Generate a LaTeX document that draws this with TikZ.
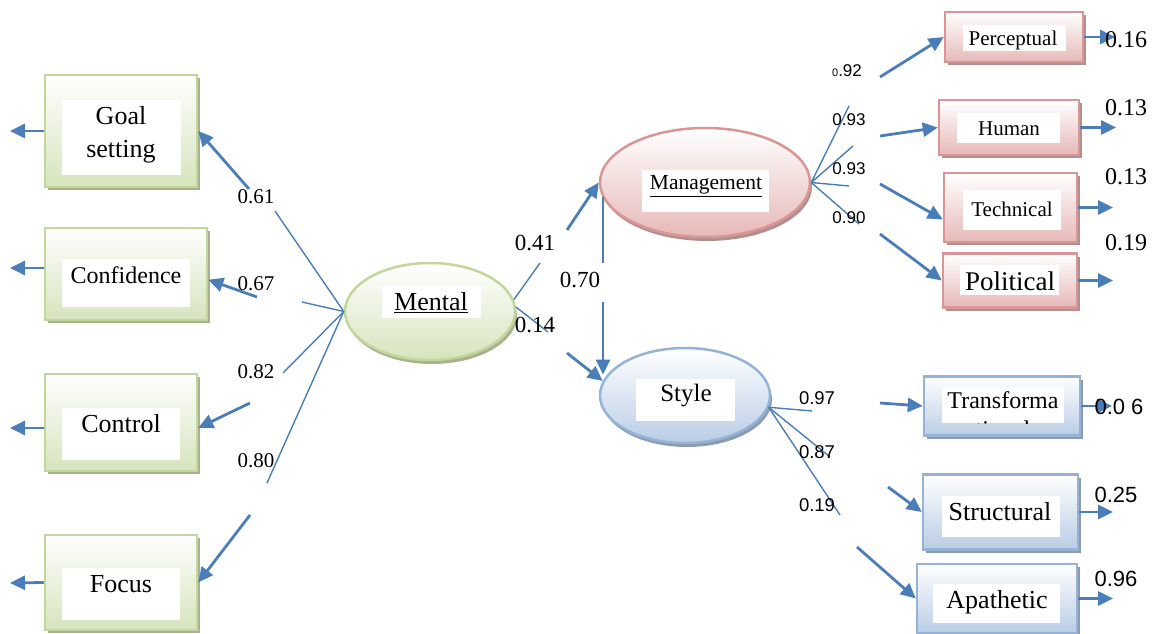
\documentclass[tikz,border=0pt]{standalone}
\usepackage{fontspec}
\setmainfont{Liberation Serif}
\newfontfamily\arialfont{Liberation Sans}
\usetikzlibrary{arrows.meta,shapes.geometric,shadows}
\definecolor{gborder}{RGB}{195,214,155}
\definecolor{gfill}{RGB}{215,228,189}
\definecolor{gshadow}{RGB}{168,178,142}
\definecolor{rborder}{RGB}{217,150,148}
\definecolor{rfill}{RGB}{230,185,184}
\definecolor{rshadow}{RGB}{178,142,142}
\definecolor{bborder}{RGB}{149,179,215}
\definecolor{bfill}{RGB}{185,205,229}
\definecolor{bshadow}{RGB}{140,155,178}
\definecolor{linkcol}{RGB}{74,126,187}
\begin{document}
\begin{tikzpicture}[x=1pt,y=-1pt]
\tikzstyle{gbox}=[rectangle, draw=gborder, line width=2.5pt, top color=white, bottom color=gfill, drop shadow={shadow xshift=3pt, shadow yshift=-3pt, fill=gshadow, opacity=1}]
\tikzstyle{rbox}=[rectangle, draw=rborder, line width=2.5pt, top color=white, bottom color=rfill, drop shadow={shadow xshift=3pt, shadow yshift=-3pt, fill=rshadow, opacity=1}]
\tikzstyle{bbox}=[rectangle, draw=bborder, line width=2.5pt, top color=white, bottom color=bfill, drop shadow={shadow xshift=3pt, shadow yshift=-3pt, fill=bshadow, opacity=1}]
\tikzstyle{gell}=[ellipse, draw=gborder, line width=2.5pt, top color=white, bottom color=gfill, drop shadow={shadow xshift=2pt, shadow yshift=-4pt, fill=gshadow, opacity=1}]
\tikzstyle{rell}=[ellipse, draw=rborder, line width=2.5pt, top color=white, bottom color=rfill, drop shadow={shadow xshift=2pt, shadow yshift=-4pt, fill=rshadow, opacity=1}]
\tikzstyle{bell}=[ellipse, draw=bborder, line width=2.5pt, top color=white, bottom color=bfill, drop shadow={shadow xshift=2pt, shadow yshift=-4pt, fill=bshadow, opacity=1}]
\tikzstyle{panel}=[rectangle, fill=white, inner sep=0]
\tikzstyle{txt}=[inner sep=0, align=center]
\tikzstyle{num}=[inner sep=0, font=\fontsize{21}{21}\selectfont]
\tikzstyle{snum}=[inner sep=0, font=\arialfont\fontsize{17}{17}\selectfont]
\tikzstyle{link}=[draw=linkcol, line width=1.4pt]
\tikzstyle{arr}=[draw=linkcol, line width=2.8pt, -{Triangle[length=15pt, width=14pt]}]
\useasboundingbox (0,0) rectangle (1157,634);

% boxes and ellipses
\node[gbox, minimum width=152pt, minimum height=112pt] (goal) at (121,131) {};
\node[gbox, minimum width=162pt, minimum height=92pt] (conf) at (126,274) {};
\node[gbox, minimum width=152pt, minimum height=97pt] (control) at (121,422.5) {};
\node[gbox, minimum width=152pt, minimum height=95pt] (focus) at (121,582.5) {};
\node[gell, minimum width=170pt, minimum height=97pt] (mental) at (430,311.5) {};
\node[rell, minimum width=210pt, minimum height=109pt] (mgmt) at (705,182.5) {};
\node[bell, minimum width=170pt, minimum height=95pt] (style) at (685,395.5) {};
\node[rbox, minimum width=138pt, minimum height=50pt] (perc) at (1014,37) {};
\node[rbox, minimum width=140pt, minimum height=55pt] (human) at (1009,127.5) {};
\node[rbox, minimum width=133pt, minimum height=69pt] (tech) at (1010.5,207.5) {};
\node[rbox, minimum width=134pt, minimum height=54pt] (pol) at (1010,280.5) {};
\node[bbox, minimum width=156pt, minimum height=59pt] (trans) at (1002,406) {};
\node[bbox, minimum width=155pt, minimum height=75pt] (struct) at (1000.5,512) {};
\node[bbox, minimum width=160pt, minimum height=69pt] (apath) at (997,598.5) {};

% white panels
\node[panel, minimum width=119pt, minimum height=75pt] (goalbg) at (121.5,137.5) {};
\node[panel, minimum width=128pt, minimum height=48pt] (confbg) at (126,283) {};
\node[panel, minimum width=118pt, minimum height=52pt] (controlbg) at (121,434) {};
\node[panel, minimum width=118pt, minimum height=52pt] (focusbg) at (121,594) {};
\node[panel, minimum width=99pt, minimum height=32pt] (mentalbg) at (431.5,302) {};
\node[panel, minimum width=127pt, minimum height=42pt] (mgmtbg) at (705.5,191) {};
\node[panel, minimum width=99pt, minimum height=42pt] (stylebg) at (685.5,400) {};
\node[panel, minimum width=103pt, minimum height=26pt] (percbg) at (1014.5,38) {};
\node[panel, minimum width=103pt, minimum height=30pt] (humanbg) at (1008.5,128) {};
\node[panel, minimum width=98pt, minimum height=40pt] (techbg) at (1012,210) {};
\node[panel, minimum width=99pt, minimum height=30pt] (polbg) at (1009.5,280) {};
\node[panel, minimum width=122pt, minimum height=36pt] (transbg) at (1003,405) {};
\node[panel, minimum width=118pt, minimum height=41pt] (structbg) at (1001,516.5) {};
\node[panel, minimum width=127pt, minimum height=39pt] (apathbg) at (996.5,603.5) {};

% names
\node[txt, font=\fontsize{26}{33}\selectfont] (goaltxt) at (121,135) {Goal\\setting};
\node[txt, font=\fontsize{24}{24}\selectfont] (conftxt) at (126,275) {Confidence};
\node[txt, font=\fontsize{26}{26}\selectfont] (controltxt) at (121,424) {Control};
\node[txt, font=\fontsize{26}{26}\selectfont] (focustxt) at (121,584) {Focus};
\node[txt, font=\fontsize{26}{26}\selectfont] (mentaltxt) at (431,303) {\underline{Mental}};
\node[txt, font=\fontsize{21.5}{21.5}\selectfont] (mgmttxt) at (706,186) {\underline{Management}};
\node[txt, font=\fontsize{25}{25}\selectfont] (styletxt) at (686,396) {Style};
\node[txt, font=\fontsize{21}{21}\selectfont] (perctxt) at (1013,40) {Perceptual};
\node[txt, font=\fontsize{21}{21}\selectfont] (humantxt) at (1009,128.5) {Human};
\node[txt, font=\fontsize{21}{21}\selectfont] (techtxt) at (1012,209) {Technical};
\node[txt, font=\fontsize{27}{27}\selectfont] (poltxt) at (1010,281) {Political};
\begin{scope}
\clip (transbg.north west) rectangle (transbg.south east);
\node[txt, anchor=north, font=\fontsize{24}{29}\selectfont] (transtxt) at (1003,391) {Transforma\\tional};
\end{scope}
\node[txt, font=\fontsize{26}{26}\selectfont] (structtxt) at (1000,512) {Structural};
\node[txt, font=\fontsize{26}{26}\selectfont] (apathtxt) at (997,602) {Apathetic};

% connector ends
\coordinate (g1) at (275,211);
\coordinate (g2) at (249,189);
\coordinate (c1) at (302,302);
\coordinate (c2) at (257,297);
\coordinate (k1) at (283,373);
\coordinate (k2) at (250,403);
\coordinate (f1) at (267,483);
\coordinate (f2) at (250,515);
\coordinate (ge) at (10,131);
\coordinate (ce) at (10,268);
\coordinate (ke) at (10,428);
\coordinate (fe) at (10,583);
\coordinate (a1) at (540,263);
\coordinate (a2) at (567,230);
\coordinate (b1) at (548,332);
\coordinate (b2) at (567,353);
\coordinate (d1) at (603,263);
\coordinate (d2) at (603,302);
\coordinate (p1) at (849,106);
\coordinate (h1) at (853,146);
\coordinate (t1) at (849,186);
\coordinate (q1) at (859,224);
\coordinate (p2) at (880,77);
\coordinate (h2) at (880,136);
\coordinate (t2) at (880,184);
\coordinate (q2) at (880,234);
\coordinate (pe) at (1115,37);
\coordinate (he) at (1116,127.5);
\coordinate (te) at (1113,207.5);
\coordinate (qe) at (1113,280.5);
\coordinate (s1) at (812,411);
\coordinate (u1) at (830,457);
\coordinate (v1) at (840,515);
\coordinate (s2) at (880,403);
\coordinate (u2) at (888,487);
\coordinate (v2) at (857,547);
\coordinate (se) at (1112,406);
\coordinate (ue) at (1113,512);
\coordinate (ve) at (1113,598.5);

% connectors
\draw[link] (mental.west) -- (g1);
\draw[link] (mental.west) -- (c1);
\draw[link] (mental.west) -- (k1);
\draw[link] (mental.west) -- (f1);
\draw[arr] (g2) -- (goal.east);
\draw[arr] (c2) -- (conf.-4);
\draw[arr] (k2) -- (control.-4);
\draw[arr] (f2) -- (focus.east);
\draw[arr] (goal.west) -- (ge);
\draw[arr] (conf.west |- ce) -- (ce);
\draw[arr] (control.west |- ke) -- (ke);
\draw[arr] (focus.west) -- (fe);
\draw[link] (mental.8) -- (a1);
\draw[arr] (a2) -- (mgmt.west);
\draw[link] (mental.3) -- (b1);
\draw[arr] (b2) -- (style.170);
\draw[link, line width=2pt] (d1 |- mgmt.188) -- (d1);
\draw[arr] (d2) -- (d2 |- style.165);
\draw[link] (mgmt.east) -- (p1);
\draw[link] (mgmt.east) -- (h1);
\draw[link] (mgmt.east) -- (t1);
\draw[link] (mgmt.east) -- (q1);
\draw[arr] (p2) -- (perc.west);
\draw[arr] (h2) -- (human.west);
\draw[arr] (t2) -- (tech.190);
\draw[arr] (q2) -- (pol.west);
\draw[arr] (perc.east) -- (pe);
\draw[arr] (human.east) -- (he);
\draw[arr] (tech.east) -- (te);
\draw[arr] (pol.east) -- (qe);
\draw[link] (style.-8) -- (s1);
\draw[link] (style.-8) -- (u1);
\draw[link] (style.-8) -- (v1);
\draw[arr] (s2) -- (trans.west);
\draw[arr] (u2) -- (struct.west);
\draw[arr] (v2) -- (apath.west);
\draw[arr] (trans.east) -- (se);
\draw[arr] (struct.east) -- (ue);
\draw[arr] (apath.east) -- (ve);

% loadings
\node[num] (n61) at (256,197) {0.61};
\node[num] (n67) at (256,284) {0.67};
\node[num] (n82) at (256,372) {0.82};
\node[num] (n80) at (256,461) {0.80};
\node[num, font=\fontsize{23}{23}\selectfont] (n41) at (535,243) {0.41};
\node[num, font=\fontsize{23}{23}\selectfont] (n70) at (580,280) {0.70};
\node[num, font=\fontsize{23}{23}\selectfont] (n14) at (535,325) {0.14};
\node[snum] (n92) at (847,71) {{\fontsize{11}{11}\selectfont 0}.92};
\node[snum] (n93a) at (849,120) {0.93};
\node[snum] (n93b) at (849,169) {0.93};
\node[snum] (n90) at (849,218) {0.90};
\node[num, font=\fontsize{24}{24}\selectfont] (e16) at (1126,40) {0.16};
\node[num, font=\fontsize{24}{24}\selectfont] (e13a) at (1126,108) {0.13};
\node[num, font=\fontsize{24}{24}\selectfont] (e13b) at (1126,177) {0.13};
\node[num, font=\fontsize{24}{24}\selectfont] (e19) at (1126,243) {0.19};
\node[snum, font=\arialfont\fontsize{18.5}{18.5}\selectfont] (n97) at (817,398) {0.97};
\node[snum, font=\arialfont\fontsize{18.5}{18.5}\selectfont] (n87) at (817,452) {0.87};
\node[snum, font=\arialfont\fontsize{18.5}{18.5}\selectfont] (n19) at (817,505) {0.19};
\node[snum, font=\arialfont\fontsize{22}{22}\selectfont] (e06) at (1119,407) {0.0 6};
\node[snum, font=\arialfont\fontsize{22}{22}\selectfont] (e25) at (1116,495) {0.25};
\node[snum, font=\arialfont\fontsize{22}{22}\selectfont] (e96) at (1116,579) {0.96};
\end{tikzpicture}
\end{document}
